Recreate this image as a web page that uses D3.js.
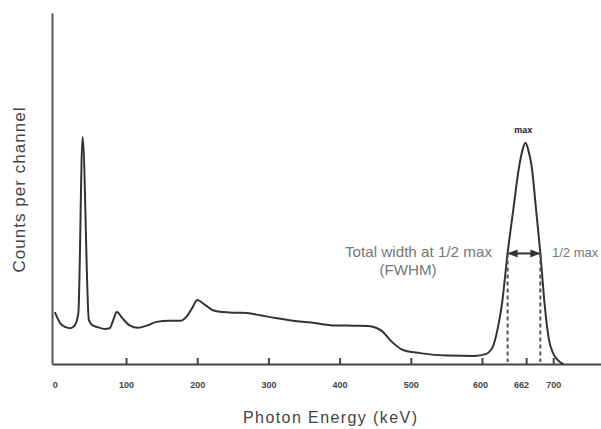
<!DOCTYPE html>
<html>
<head>
<meta charset="utf-8">
<script src="https://cdn.jsdelivr.net/npm/d3@7"></script>
<style>
  body { margin: 0; background: #fff; }
  svg { display: block; }
</style>
</head>
<body>
<svg width="601" height="429"></svg>
<script>
// spectrum (keV vs relative counts)
const energy = [0, 8, 15, 22, 28, 33, 39, 47.8, 53, 60, 70, 77, 82, 87, 95, 105, 117, 130, 143, 160, 176, 185, 193, 200, 210, 222, 235, 255, 270, 290, 310, 340, 360, 390, 420, 440, 450, 460, 471, 489, 513, 551, 590, 605, 615, 622, 628, 636, 644, 652, 657, 661, 665, 670, 676, 682, 688, 694, 700, 707, 714];
const counts = [14.8, 11.5, 10.5, 10.2, 11, 14.5, 64.7, 12.5, 11, 10.5, 10, 10.2, 12.5, 14.8, 13, 11, 10.3, 11, 12, 12.3, 12.3, 13.5, 16, 18.2, 17, 15.3, 14.8, 14.6, 14.5, 13.8, 13.1, 12.2, 11.8, 11, 10.9, 10.8, 10.4, 9.3, 6.8, 4.0, 3.1, 2.4, 2.3, 2.8, 4.8, 10, 17, 31.6, 44, 56, 61, 63, 61, 56, 44, 31.6, 17, 7, 3, 1, 0];

const xTicks = [0, 100, 200, 300, 400, 500, 600, 662, 700];
const fwhmEnergy = [636, 682];
const peakMax = 63;

const svg = d3.select('svg');

const x = d3.scaleLinear().domain([-4, 770]).range([52, 603]);
const y = d3.scaleLinear().domain([0, 100]).range([364, 13]);

// x axis with ticks pointing up into the plot
const xAxis = d3.axisBottom(x)
  .tickValues(xTicks)
  .tickFormat(d => d)
  .tickSizeInner(-6)
  .tickSizeOuter(0)
  .tickPadding(18);

const xg = svg.append('g')
  .attr('transform', `translate(0, ${y(0)})`)
  .call(xAxis);

xg.select('.domain').style('stroke', '#444').style('stroke-width', '2px');
xg.selectAll('.tick line')
  .style('stroke', '#444')
  .style('stroke-width', '2px')
  .style('display', d => d === 0 ? 'none' : null);
xg.selectAll('.tick text')
  .attr('dx', d => d === 662 ? -5 : (d === 600 ? -2 : 0))
  .style('font-family', 'Liberation Sans, Arial, sans-serif')
  .style('font-size', '9px')
  .style('font-weight', 'bold')
  .style('fill', '#444');

// y axis, no ticks
const yg = svg.append('g')
  .attr('transform', `translate(${x(-4)}, 0)`)
  .call(d3.axisLeft(y).ticks(0).tickSizeOuter(0));
yg.select('.domain').style('stroke', '#555').style('stroke-width', '2px');

// spectrum curve
const pts = energy.map((e, i) => [e, counts[i]]);
const line = d3.line()
  .x(d => x(d[0]))
  .y(d => y(d[1]))
  .curve(d3.curveMonotoneX);

svg.append('path')
  .datum(pts)
  .attr('d', line)
  .style('fill', 'none')
  .style('stroke', '#333')
  .style('stroke-width', '2px')
  .style('stroke-linejoin', 'round');

// FWHM markers
const half = peakMax / 2;
svg.selectAll('.fwhmLine')
  .data(fwhmEnergy)
  .enter()
  .append('line')
  .attr('class', 'fwhmLine')
  .attr('x1', d => x(d))
  .attr('x2', d => x(d))
  .attr('y1', y(half))
  .attr('y2', y(0) - 2)
  .style('stroke', '#555')
  .style('stroke-width', '2px')
  .style('stroke-dasharray', '4,3');

const defs = svg.append('defs');
defs.append('marker')
  .attr('id', 'arrowHead')
  .attr('viewBox', '0 0 10 10')
  .attr('refX', 9)
  .attr('refY', 5)
  .attr('markerWidth', 5)
  .attr('markerHeight', 5)
  .attr('orient', 'auto-start-reverse')
  .append('path')
  .attr('d', 'M0,1 L10,5 L0,9 z')
  .style('fill', '#333');

svg.append('line')
  .attr('x1', x(fwhmEnergy[0]) + 1)
  .attr('x2', x(fwhmEnergy[1]) - 1)
  .attr('y1', y(half))
  .attr('y2', y(half))
  .style('stroke', '#333')
  .style('stroke-width', '2px')
  .attr('marker-start', 'url(#arrowHead)')
  .attr('marker-end', 'url(#arrowHead)');

// annotation texts
const noteFont = 'Liberation Sans, Arial, sans-serif';

svg.append('text')
  .text('max')
  .attr('x', x(658))
  .attr('y', y(peakMax) - 10)
  .style('text-anchor', 'middle')
  .style('font-family', noteFont)
  .style('font-size', '9px')
  .style('font-weight', 'bold')
  .style('fill', '#222');

svg.append('text')
  .text('Total width at 1/2 max')
  .attr('x', 345)
  .attr('y', y(half) + 4)
  .attr('textLength', 147)
  .attr('lengthAdjust', 'spacingAndGlyphs')
  .style('font-family', noteFont)
  .style('font-size', '15px')
  .style('fill', '#777');

svg.append('text')
  .text('(FWHM)')
  .attr('x', 408)
  .attr('y', y(half) + 22)
  .attr('textLength', 57)
  .attr('lengthAdjust', 'spacingAndGlyphs')
  .style('text-anchor', 'middle')
  .style('font-family', noteFont)
  .style('font-size', '15px')
  .style('fill', '#777');

svg.append('text')
  .text('1/2 max')
  .attr('x', 552)
  .attr('y', y(half) + 4)
  .style('font-family', noteFont)
  .style('font-size', '13px')
  .style('fill', '#777');

// axis titles
svg.append('text')
  .text('Photon Energy  (keV)')
  .attr('x', 330)
  .attr('y', 423)
  .attr('textLength', 174)
  .attr('lengthAdjust', 'spacing')
  .style('text-anchor', 'middle')
  .style('font-family', noteFont)
  .style('font-size', '16px')
  .style('fill', '#444');

svg.append('text')
  .text('Counts per channel')
  .attr('transform', 'translate(25, 190) rotate(-90)')
  .attr('textLength', 165)
  .attr('lengthAdjust', 'spacing')
  .style('text-anchor', 'middle')
  .style('font-family', noteFont)
  .style('font-size', '17px')
  .style('fill', '#444');
</script>
</body>
</html>
